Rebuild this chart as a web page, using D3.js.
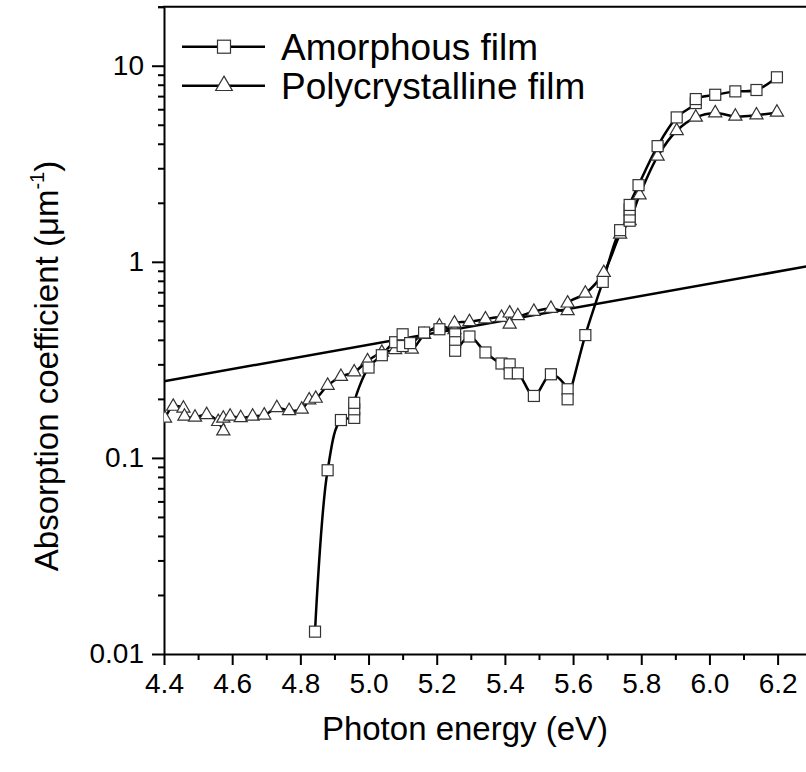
<!DOCTYPE html>
<html><head><meta charset="utf-8">
<script src="https://cdn.jsdelivr.net/npm/d3@7"></script>
<style>body{margin:0;background:#fff} svg{display:block}</style>
</head><body><svg id="c" width="806" height="772"></svg>
<script>
// ---- data ----
const amorphousEnergy = [4.843,4.880,4.919,4.958,4.958,4.958,5.000,5.039,5.078,5.100,5.100,5.122,5.163,5.208,5.254,5.254,5.254,5.296,5.343,5.390,5.414,5.414,5.438,5.485,5.535,5.584,5.584,5.636,5.687,5.738,5.766,5.766,5.766,5.766,5.792,5.848,5.904,5.960,5.960,6.017,6.076,6.138,6.198];
const amorphousAbs    = [0.013,0.0865,0.156,0.160,0.177,0.191,0.289,0.334,0.389,0.372,0.427,0.385,0.436,0.453,0.427,0.389,0.352,0.416,0.345,0.303,0.300,0.270,0.270,0.207,0.267,0.224,0.199,0.423,0.79,1.45,1.62,1.70,1.85,1.95,2.46,3.89,5.45,6.45,6.76,7.11,7.40,7.52,8.73];
const polyEnergy = [4.403,4.427,4.457,4.460,4.491,4.525,4.559,4.574,4.574,4.594,4.625,4.660,4.694,4.731,4.767,4.804,4.826,4.845,4.880,4.919,4.958,4.997,5.039,5.078,5.107,5.127,5.163,5.208,5.252,5.252,5.296,5.343,5.390,5.414,5.414,5.438,5.485,5.535,5.584,5.584,5.636,5.690,5.738,5.766,5.795,5.848,5.904,5.960,6.017,6.076,6.138,6.198];
const polyAbs    = [0.159,0.183,0.179,0.163,0.161,0.166,0.153,0.137,0.159,0.163,0.160,0.163,0.165,0.180,0.174,0.177,0.197,0.201,0.234,0.260,0.274,0.312,0.345,0.356,0.389,0.358,0.425,0.470,0.450,0.486,0.494,0.510,0.520,0.480,0.547,0.530,0.558,0.578,0.562,0.615,0.690,0.88,1.38,1.62,2.19,3.45,4.66,5.45,5.74,5.52,5.60,5.78];
const fitEnergy = [4.4, 6.3];
const fitAbs    = [0.246, 0.958];
const xMajorTicks = [4.4,4.6,4.8,5.0,5.2,5.4,5.6,5.8,6.0,6.2];
const xMinorTicks = [4.5,4.7,4.9,5.1,5.3,5.5,5.7,5.9,6.1];
const yMajorTicks = [0.01,0.1,1,10];
const yTickLabels = ["0.01","0.1","1","10"];
const seriesNames = ["Amorphous film","Polycrystalline film"];

// ---- layout ----
const FONT = "Liberation Sans, Arial, Helvetica, sans-serif";
const svg = d3.select("#c");
const L = 164, R = 811.7, T = 6.7, B = 654;
const x = d3.scaleLinear().domain([4.4, 6.3]).range([L, R]);
const y = d3.scaleLog().domain([0.01, 20]).range([B, T]);

const yMinor = [];
[0.01,0.1,1,10].forEach(d => { for (let k=2;k<=9;k++){ const v=d*k; if (v<=20) yMinor.push(v);} });
yMinor.push(20);

// axes
const gx = svg.append("g").attr("transform",`translate(0,${B})`);
gx.call(d3.axisBottom(x).tickValues(xMinorTicks).tickSize(6).tickFormat(""));
gx.call(g=>g.selectAll(".domain").remove());
const gx2 = svg.append("g").attr("transform",`translate(0,${B})`);
gx2.call(d3.axisBottom(x).tickValues(xMajorTicks).tickSize(11).tickSizeOuter(0).tickPadding(8).tickFormat(d3.format(".1f")));
const gy = svg.append("g").attr("transform",`translate(${L},0)`);
gy.call(d3.axisLeft(y).tickValues(yMinor).tickSize(6).tickFormat(""));
gy.call(g=>g.selectAll(".domain").remove());
const gy2 = svg.append("g").attr("transform",`translate(${L},0)`);
gy2.call(d3.axisLeft(y).tickValues(yMajorTicks).tickSize(12).tickSizeOuter(0).tickPadding(8).tickFormat((d,i)=>yTickLabels[i]));
svg.selectAll(".domain").attr("stroke","#000").attr("stroke-width",2);
svg.selectAll(".tick line").attr("stroke","#000").attr("stroke-width",2);
svg.selectAll(".tick text").attr("font-family",FONT).attr("font-size",28).attr("fill","#000");
// top spine
svg.append("line").attr("x1",L-1).attr("x2",806).attr("y1",T).attr("y2",T).attr("stroke","#000").attr("stroke-width",2);
svg.append("line").attr("x1",R).attr("x2",R).attr("y1",T).attr("y2",B).attr("stroke","#000").attr("stroke-width",2);

// clip
svg.append("clipPath").attr("id","clip").append("rect").attr("x",L).attr("y",T).attr("width",R-L).attr("height",B-T);
const plot = svg.append("g").attr("clip-path","url(#clip)");

const line = d3.line().x(d=>x(d[0])).y(d=>y(d[1])).curve(d3.curveCatmullRom.alpha(0.5));
const amorph = amorphousEnergy.map((e,i)=>[e,amorphousAbs[i]]);
const poly = polyEnergy.map((e,i)=>[e,polyAbs[i]]);
const fit = fitEnergy.map((e,i)=>[e,fitAbs[i]]);

plot.append("path").datum(fit).attr("d",d3.line().x(d=>x(d[0])).y(d=>y(d[1]))).attr("fill","none").attr("stroke","#000").attr("stroke-width",2.5);
plot.append("path").datum(amorph).attr("d",line).attr("fill","none").attr("stroke","#000").attr("stroke-width",2.5);
plot.append("path").datum(poly).attr("d",line).attr("fill","none").attr("stroke","#000").attr("stroke-width",2.5);

const S = 11;
const tri = d3.symbol().type(d3.symbolTriangle).size(75);
plot.selectAll(".tri").data(poly).join("path").attr("class","tri")
  .attr("transform",d=>`translate(${x(d[0])},${y(d[1])})`)
  .attr("d",tri()).attr("fill","#fff").attr("stroke","#333").attr("stroke-width",1.2);
plot.selectAll(".sq").data(amorph).join("rect").attr("class","sq")
  .attr("x",d=>x(d[0])-S/2).attr("y",d=>y(d[1])-S/2).attr("width",S).attr("height",S)
  .attr("fill","#fff").attr("stroke","#333").attr("stroke-width",1.2);

// legend
const lg = svg.append("g");
[0,1].forEach(i=>{
  const ly = 46.7 + i*39;
  lg.append("line").attr("x1",182).attr("x2",265).attr("y1",ly).attr("y2",ly).attr("stroke","#000").attr("stroke-width",2.5);
  if (i===0) lg.append("rect").attr("x",224-6.5).attr("y",ly-6.5).attr("width",13).attr("height",13).attr("fill","#fff").attr("stroke","#333").attr("stroke-width",1.2);
  else lg.append("path").attr("transform",`translate(224,${ly})`).attr("d",d3.symbol().type(d3.symbolTriangle).size(120)()).attr("fill","#fff").attr("stroke","#333").attr("stroke-width",1.2);
  lg.append("text").attr("x",281).attr("y",ly+13).attr("font-family",FONT).attr("font-size",37).text(seriesNames[i]);
});

// axis titles
svg.append("text").attr("x",(L+806)/2-20).attr("y",740).attr("text-anchor","middle").attr("font-family",FONT).attr("font-size",33).text("Photon energy (eV)");
const yt = svg.append("text").attr("transform",`translate(58,366) rotate(-90)`).attr("text-anchor","middle").attr("font-family",FONT).attr("font-size",33);
yt.append("tspan").text("Absorption coefficient (\u03bcm");
yt.append("tspan").attr("font-size",20).attr("dy",-14).text("-1");
yt.append("tspan").attr("dy",14).text(")");
</script></body></html>
